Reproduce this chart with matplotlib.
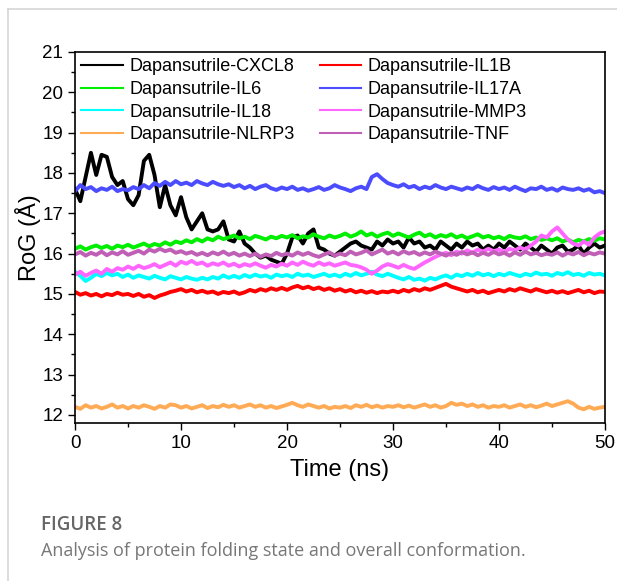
import numpy as np
import matplotlib
matplotlib.use("Agg")
import matplotlib.pyplot as plt
from matplotlib.ticker import MultipleLocator
from matplotlib.lines import Line2D

plt.rcParams["font.family"] = ["Liberation Sans", "DejaVu Sans"]

# time axis, 0.5 ns sampling
time_ns = np.arange(0, 50.5, 0.5)

labels = ["Dapansutrile-CXCL8", "Dapansutrile-IL1B", "Dapansutrile-IL6",
          "Dapansutrile-IL17A", "Dapansutrile-IL18", "Dapansutrile-MMP3",
          "Dapansutrile-NLRP3", "Dapansutrile-TNF"]
colors = ["#000000", "#ff0000", "#00ee00", "#4c4cff",
          "#00ffff", "#ff66ff", "#ffaa55", "#bf5fb5"]

# RoG values (10 per row = 5 ns)
rog_cxcl8 = [17.6, 17.3, 17.9, 18.5, 17.95, 18.45, 18.4, 17.9, 17.7, 17.8,
             17.35, 17.2, 17.45, 18.3, 18.45, 17.95, 17.15, 17.7, 17.2, 16.95,
             17.4, 16.9, 16.6, 16.8, 17.0, 16.6, 16.55, 16.6, 16.8, 16.35,
             16.3, 16.55, 16.25, 16.15, 16.0, 15.9, 15.95, 15.85, 15.8, 15.75,
             16.0, 16.4, 16.45, 16.25, 16.5, 16.6, 16.15, 16.1, 16.0, 15.95,
             16.05, 16.15, 16.25, 16.3, 16.2, 16.15, 16.1, 16.3, 16.2, 16.35,
             16.25, 16.3, 16.15, 16.4, 16.25, 16.3, 16.15, 16.2, 16.1, 16.3,
             16.2, 16.1, 16.25, 16.15, 16.3, 16.2, 16.25, 16.1, 16.2, 16.1,
             16.25, 16.15, 16.3, 16.2, 16.1, 16.25, 16.15, 16.05, 16.2, 16.1,
             16.0, 16.15, 16.2, 16.05, 16.1, 16.2, 16.0, 16.15, 16.25, 16.15,
             16.2]
rog_il1b = [15.05, 14.98, 15.02, 14.96, 15.0, 14.94, 15.0, 14.97, 15.03, 14.98,
            15.0, 14.95, 15.0, 14.93, 14.97, 14.9, 14.96, 15.0, 15.05, 15.08,
            15.12, 15.06, 15.1, 15.04, 15.08, 15.03, 15.06, 15.0, 15.05, 15.02,
            15.06, 15.0, 15.04, 15.1, 15.06, 15.12, 15.08, 15.14, 15.1, 15.15,
            15.1, 15.16, 15.2, 15.14, 15.18, 15.12, 15.16, 15.1, 15.14, 15.08,
            15.12, 15.06, 15.1, 15.04, 15.08, 15.03, 15.07, 15.02, 15.06, 15.04,
            15.08, 15.04, 15.1, 15.06, 15.12, 15.08, 15.14, 15.1, 15.15, 15.2,
            15.25, 15.18, 15.14, 15.1, 15.06, 15.1, 15.04, 15.08, 15.02, 15.06,
            15.1, 15.06, 15.12, 15.08, 15.14, 15.1, 15.06, 15.12, 15.08, 15.04,
            15.08, 15.03, 15.07, 15.02, 15.06, 15.1, 15.04, 15.08, 15.02, 15.06,
            15.05]
rog_il6 = [16.12, 16.18, 16.1, 16.16, 16.2, 16.14, 16.19, 16.12, 16.2, 16.16,
           16.22, 16.15, 16.2, 16.25, 16.18, 16.24, 16.2, 16.28, 16.22, 16.3,
           16.26, 16.33, 16.28, 16.36, 16.3, 16.38, 16.33, 16.42, 16.36, 16.4,
           16.45, 16.38, 16.42, 16.36, 16.44, 16.4, 16.35, 16.42, 16.38, 16.44,
           16.4, 16.46, 16.38, 16.43, 16.4, 16.48, 16.42, 16.38, 16.45, 16.4,
           16.44, 16.5, 16.42, 16.47, 16.55, 16.45, 16.5, 16.42, 16.48, 16.52,
           16.44, 16.5, 16.45, 16.4, 16.47, 16.52, 16.43, 16.48, 16.4, 16.46,
           16.42, 16.48, 16.4, 16.45, 16.38, 16.43, 16.48, 16.4, 16.44, 16.38,
           16.42, 16.36, 16.44, 16.4, 16.38, 16.43, 16.36, 16.4, 16.34, 16.38,
           16.33, 16.38, 16.3, 16.35, 16.28, 16.34, 16.3, 16.36, 16.32, 16.38,
           16.35]
rog_il17a = [17.55, 17.7, 17.6, 17.65, 17.55, 17.62, 17.58, 17.66, 17.55, 17.6,
             17.57, 17.65, 17.6, 17.7, 17.62, 17.75, 17.68, 17.78, 17.7, 17.8,
             17.72, 17.76, 17.7, 17.8, 17.74, 17.7, 17.78, 17.72, 17.68, 17.72,
             17.65, 17.7, 17.62, 17.68, 17.6, 17.66, 17.7, 17.62, 17.58, 17.64,
             17.6, 17.66, 17.58, 17.62, 17.56, 17.6, 17.65, 17.58, 17.62, 17.7,
             17.64, 17.6, 17.55, 17.62, 17.66, 17.6, 17.9, 17.97, 17.85, 17.75,
             17.7, 17.66, 17.72, 17.64, 17.68, 17.6, 17.66, 17.62, 17.7, 17.64,
             17.6, 17.66, 17.62, 17.58, 17.64, 17.6, 17.68, 17.62, 17.58, 17.65,
             17.6, 17.64, 17.58, 17.66, 17.6, 17.55, 17.62, 17.6, 17.66, 17.58,
             17.62, 17.56, 17.64, 17.6, 17.58, 17.62, 17.56, 17.6, 17.52, 17.55,
             17.5]
rog_il18 = [15.55, 15.45, 15.32, 15.4, 15.5, 15.44, 15.52, 15.46, 15.5, 15.42,
            15.48, 15.4, 15.46, 15.42, 15.38, 15.45, 15.4, 15.36, 15.44, 15.4,
            15.36, 15.42, 15.38, 15.35, 15.4, 15.36, 15.42, 15.38, 15.46, 15.4,
            15.45, 15.4, 15.47, 15.42, 15.48, 15.43, 15.46, 15.4, 15.48, 15.44,
            15.47, 15.42, 15.5, 15.45, 15.48, 15.42, 15.46, 15.5, 15.44, 15.48,
            15.43, 15.5, 15.45, 15.52, 15.46, 15.5, 15.55, 15.48, 15.44, 15.5,
            15.45, 15.4, 15.36, 15.42, 15.35, 15.38, 15.33, 15.4, 15.36, 15.42,
            15.46, 15.4, 15.48, 15.44, 15.5, 15.45, 15.52, 15.46, 15.5, 15.44,
            15.5, 15.46, 15.52, 15.48, 15.44, 15.5, 15.46, 15.53, 15.48, 15.5,
            15.45, 15.52, 15.48, 15.54, 15.47, 15.5, 15.45, 15.52, 15.48, 15.5,
            15.46]
rog_mmp3 = [15.48, 15.55, 15.45, 15.52, 15.58, 15.5, 15.62, 15.55, 15.64, 15.6,
            15.68, 15.62, 15.7, 15.64, 15.68, 15.74, 15.66, 15.72, 15.78, 15.7,
            15.8, 15.75, 15.82, 15.74, 15.78, 15.7, 15.76, 15.72, 15.78, 15.7,
            15.75, 15.68, 15.74, 15.7, 15.76, 15.7, 15.65, 15.72, 15.68, 15.75,
            15.7, 15.78, 15.72, 15.8, 15.74, 15.7, 15.78, 15.72, 15.76, 15.7,
            15.74, 15.78, 15.72, 15.7, 15.66, 15.6, 15.5, 15.58, 15.68, 15.74,
            15.7, 15.65, 15.72, 15.66, 15.62, 15.7, 15.78, 15.85, 15.92, 15.98,
            16.02, 15.96, 16.05, 16.0, 16.08, 16.02, 16.1, 16.05, 16.12, 16.06,
            16.1, 16.04, 16.12, 16.08, 16.15, 16.1, 16.2, 16.3, 16.45, 16.4,
            16.55, 16.65, 16.5, 16.35, 16.25, 16.2, 16.3, 16.22, 16.4, 16.5,
            16.55]
rog_nlrp3 = [12.2, 12.15, 12.24, 12.18, 12.22, 12.16, 12.2, 12.26, 12.18, 12.22,
             12.16, 12.22, 12.18, 12.24, 12.2, 12.15, 12.22, 12.18, 12.26, 12.24,
             12.18, 12.22, 12.16, 12.2, 12.24, 12.17, 12.22, 12.19, 12.25, 12.2,
             12.24, 12.18, 12.22, 12.26, 12.2, 12.24, 12.18, 12.22, 12.17, 12.21,
             12.25, 12.3, 12.24, 12.2, 12.26, 12.22, 12.18, 12.22, 12.16, 12.2,
             12.18, 12.22, 12.17, 12.24, 12.2, 12.25, 12.19, 12.23, 12.18, 12.22,
             12.2, 12.24, 12.19, 12.23, 12.18, 12.22, 12.26, 12.2, 12.24, 12.18,
             12.22, 12.3, 12.25, 12.28, 12.22, 12.26, 12.2, 12.24, 12.18, 12.22,
             12.2, 12.24, 12.18, 12.22, 12.26, 12.2, 12.24, 12.19, 12.23, 12.28,
             12.22, 12.26, 12.3, 12.34, 12.28, 12.18, 12.14, 12.2, 12.15, 12.18,
             12.2]
rog_tnf = [15.98, 16.04, 15.95, 16.02, 15.97, 16.05, 15.96, 16.03, 15.98, 16.06,
           15.97, 16.02, 16.07, 16.0, 16.1, 16.05, 16.12, 16.06, 16.1, 16.02,
           16.06, 16.0, 16.04, 15.97, 16.02, 15.96, 16.03, 15.98, 16.05, 15.97,
           16.02, 15.95, 16.0, 15.94, 16.0, 15.92, 15.98, 15.94, 16.02, 15.96,
           16.0, 15.95, 16.03, 15.97, 16.02, 15.96, 15.92, 15.98, 16.03, 15.95,
           16.0, 15.96, 16.05, 15.98, 16.02, 16.08, 15.98, 16.04, 16.1, 16.0,
           16.05, 15.98, 16.06, 16.0, 16.04, 15.97, 16.03, 15.98, 16.05, 16.0,
           15.95, 16.02, 15.97, 16.04, 15.98, 16.03, 15.96, 16.02, 15.97, 16.04,
           15.98, 16.02, 15.95, 16.03, 15.97, 16.05, 15.98, 16.02, 15.96, 16.0,
           15.97, 16.03, 15.95, 16.02, 15.98, 16.04, 15.96, 16.02, 15.98, 16.03,
           16.0]

series = [rog_cxcl8, rog_il1b, rog_il6, rog_il17a,
          rog_il18, rog_mmp3, rog_nlrp3, rog_tnf]

fig = plt.figure(figsize=(6.17, 5.81), dpi=100)
ax = fig.add_axes([0.1216, 0.272, 0.8589, 0.6385])

lines = []
for lab, col, vals in zip(labels, colors, series):
    ln, = ax.plot(time_ns, vals, color=col, lw=2.8, label=lab)
    lines.append(ln)

ax.set_xlim(0, 50)
ax.set_ylim(11.8, 21)
ax.xaxis.set_major_locator(MultipleLocator(10))
ax.xaxis.set_minor_locator(MultipleLocator(5))
ax.yaxis.set_major_locator(MultipleLocator(1))
ax.yaxis.set_minor_locator(MultipleLocator(0.5))
ax.tick_params(which="major", direction="out", length=5, width=1, labelsize=13.5)
ax.tick_params(which="minor", direction="out", length=3, width=1)
for s in ax.spines.values():
    s.set_linewidth(1.2)

ax.set_xlabel("Time (ns)", fontsize=17, labelpad=5)
ax.set_ylabel("RoG (Å)", fontsize=17, labelpad=1)

# legend in two columns, filled row by row like the original
order = [0, 2, 4, 6, 1, 3, 5, 7]
leg = ax.legend([lines[i] for i in order], [labels[i] for i in order],
                ncol=2, loc="upper left", frameon=False, fontsize=13,
                handlelength=2.3, handletextpad=0.35, columnspacing=1.4,
                labelspacing=0.31, borderaxespad=0.15, borderpad=0.2)
for h in leg.get_lines():
    h.set_linewidth(1.5)

# caption
fig.text(0.066, 1 - 525 / 581, "FIGURE 8", fontsize=13.5, color="#666666",
         family=["Open Sans", "DejaVu Sans"], fontweight="semibold", va="center")
fig.text(0.066, 1 - 551 / 581,
         "Analysis of protein folding state and overall conformation.",
         fontsize=13, color="#777777", family=["Open Sans", "DejaVu Sans"],
         va="center")

# card border (top and left edge)
fig.add_artist(Line2D([8 / 617, 1], [1 - 9 / 581, 1 - 9 / 581],
                      transform=fig.transFigure, color="#d5d5d5", lw=1.2))
fig.add_artist(Line2D([8 / 617, 8 / 617], [0, 1 - 9 / 581],
                      transform=fig.transFigure, color="#d5d5d5", lw=1.2))

fig.savefig("out.png", dpi=100)
